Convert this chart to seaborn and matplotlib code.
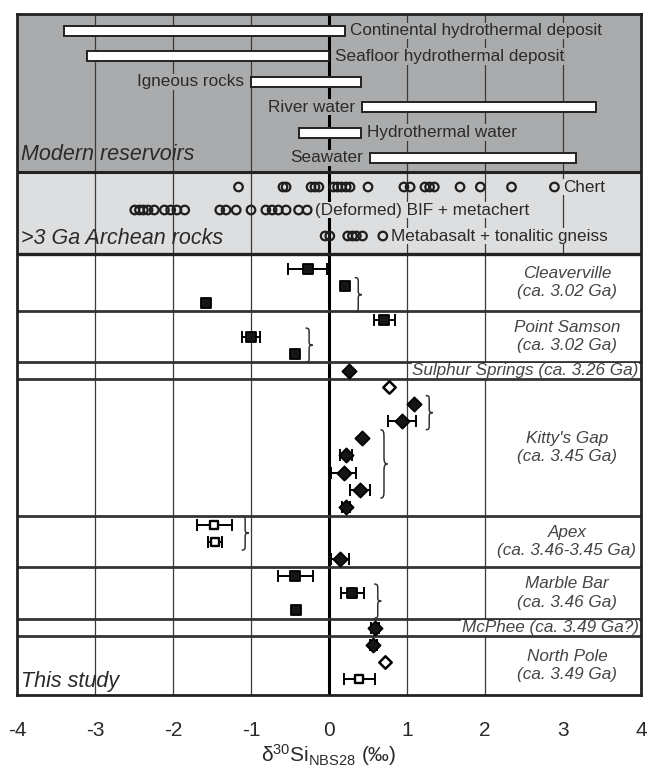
import numpy as np
import pandas as pd
import seaborn as sns
import matplotlib.pyplot as plt
from matplotlib.path import Path
from matplotlib.patches import PathPatch

# ----------------------------
# Data (d30Si, permil)
# ----------------------------
modern_names = ["Continental hydrothermal deposit", "Seafloor hydrothermal deposit",
                "Igneous rocks", "River water", "Hydrothermal water", "Seawater"]
modern_low = [-3.4, -3.1, -1.0, 0.42, -0.38, 0.53]
modern_high = [0.2, 0.0, 0.41, 3.42, 0.41, 3.17]
modern_label_side = ["right", "right", "left", "left", "right", "left"]

archean_names = ["Chert", "(Deformed) BIF + metachert", "Metabasalt + tonalitic gneiss"]
chert = [-1.16, -0.59, -0.55, -0.23, -0.18, -0.13, 0.06, 0.11, 0.16, 0.22, 0.27,
         0.50, 0.96, 1.04, 1.23, 1.29, 1.35, 1.68, 1.94, 2.34, 2.89]
bif_metachert = [-2.49, -2.43, -2.38, -2.32, -2.24, -2.11, -2.03, -1.95, -1.85,
                 -1.40, -1.32, -1.19, -1.00, -0.81, -0.73, -0.65, -0.55, -0.39, -0.28]
metabasalt_gneiss = [-0.05, 0.01, 0.24, 0.30, 0.35, 0.43, 0.69]

units = ["Cleaverville", "Point Samson", "Sulphur Springs", "Kitty's Gap",
         "Apex", "Marble Bar", "McPhee", "North Pole"]
unit_ages = ["ca. 3.02 Ga", "ca. 3.02 Ga", "ca. 3.26 Ga", "ca. 3.45 Ga",
             "ca. 3.46-3.45 Ga", "ca. 3.46 Ga", "ca. 3.49 Ga?", "ca. 3.49 Ga"]

# values, 1-sigma x errors, symbol (s = square, D = diamond; o_ = open)
cleaverville = [-0.27, 0.20, -1.58]
cleaverville_err = [0.25, 0.0, 0.0]
cleaverville_sym = ["s", "s", "s"]
point_samson = [0.71, -1.00, -0.43]
point_samson_err = [0.13, 0.12, 0.0]
point_samson_sym = ["s", "s", "s"]
sulphur_springs = [0.25]
sulphur_springs_err = [0.0]
sulphur_springs_sym = ["D"]
kittys_gap = [0.77, 1.09, 0.93, 0.42, 0.22, 0.19, 0.40, 0.22]
kittys_gap_err = [0.0, 0.0, 0.18, 0.0, 0.08, 0.16, 0.13, 0.05]
kittys_gap_sym = ["oD", "D", "D", "D", "D", "D", "D", "D"]
apex = [-1.47, -1.46, 0.14]
apex_err = [0.22, 0.09, 0.12]
apex_sym = ["os", "os", "D"]
marble_bar = [-0.43, 0.30, -0.42]
marble_bar_err = [0.23, 0.15, 0.0]
marble_bar_sym = ["s", "s", "s"]
mcphee = [0.59]
mcphee_err = [0.05]
mcphee_sym = ["D"]
north_pole = [0.57, 0.72, 0.39]
north_pole_err = [0.05, 0.0, 0.20]
north_pole_sym = ["D", "oD", "os"]

# samples grouped by a brace (indices within each unit)
brace_groups = {"Cleaverville": [[1, 2]], "Point Samson": [[1, 2]],
                "Kitty's Gap": [[1, 2], [3, 4, 5, 6]], "Apex": [[0, 1]],
                "Marble Bar": [[1, 2]]}

unit_values = [cleaverville, point_samson, sulphur_springs, kittys_gap,
               apex, marble_bar, mcphee, north_pole]
unit_errs = [cleaverville_err, point_samson_err, sulphur_springs_err, kittys_gap_err,
             apex_err, marble_bar_err, mcphee_err, north_pole_err]
unit_syms = [cleaverville_sym, point_samson_sym, sulphur_springs_sym, kittys_gap_sym,
             apex_sym, marble_bar_sym, mcphee_sym, north_pole_sym]

# ----------------------------
# Layout (vertical units ~ pixels from top of the frame)
# ----------------------------
modern_top, modern_h, modern_pitch = 0, 158, 25.4
arch_top, arch_h = 158, 82
arch_rows = [15, 38, 64]
low_top = 240
panel_h = [57, 51, 17, 137, 51, 52, 17, 59]
first_row = [15, 8.5, 8.5, 8, 8.5, 8.5, 8.5, 8.5]
row_pitch = 17.1

MODERN_BG = "#a9abad"
ARCH_BG = "#dddedf"
TXT = "#2a2a2a"

sns.set_style("white")
plt.rcParams["font.family"] = ["Liberation Sans", "DejaVu Sans"]
plt.rcParams["mathtext.fontset"] = "custom"
plt.rcParams["mathtext.rm"] = "Liberation Sans"
plt.rcParams["mathtext.it"] = "Liberation Sans:italic"
plt.rcParams["axes.unicode_minus"] = False

fig = plt.figure(figsize=(6.49, 7.74), dpi=100)
ax = fig.add_axes([17 / 649, (774 - 695) / 774, 624 / 649, 681 / 774])
ax.set_xlim(-4, 4)
total_h = low_top + sum(panel_h)
ax.set_ylim(total_h, 0)

# backgrounds
ax.axhspan(modern_top, modern_top + modern_h, color=MODERN_BG, zorder=0, lw=0)
ax.axhspan(arch_top, arch_top + arch_h, color=ARCH_BG, zorder=0, lw=0)

# vertical grid
ax.vlines([-3, -2, -1, 1, 2, 3], 0, low_top, color="#3a3a3a", lw=0.9, zorder=1)
ax.vlines([-3, -2, -1, 1, 2], low_top, total_h, color="#3a3a3a", lw=0.9, zorder=1)
ax.axvline(0, color="black", lw=2.2, zorder=1.5)

# horizontal separators
ax.axhline(arch_top, color="#222", lw=2.2, zorder=1.6)
ax.axhline(low_top, color="#222", lw=2.4, zorder=1.6)
edges = np.cumsum([low_top] + panel_h)
for e in edges[1:-1]:
    ax.axhline(e, color="#333", lw=2.0, zorder=1.6)

# ---- Modern reservoirs
y_mod = modern_top + 17 + modern_pitch * np.arange(len(modern_names))
lo = np.array(modern_low)
hi = np.array(modern_high)
ax.barh(y_mod, hi - lo, left=lo, height=10, color="white", edgecolor="#222",
        linewidth=1.4, zorder=3)
for name, l, h, y, side in zip(modern_names, lo, hi, y_mod, modern_label_side):
    if side == "right":
        ax.annotate(name, (h, y), xytext=(4, 0), textcoords="offset points",
                    ha="left", va="center", fontsize=12.3, color=TXT, zorder=2,
                    bbox=dict(facecolor=MODERN_BG, edgecolor="none", pad=0.5))
    else:
        ax.annotate(name, (l, y), xytext=(-5, 0), textcoords="offset points",
                    ha="right", va="center", fontsize=12.3, color=TXT, zorder=2,
                    bbox=dict(facecolor=MODERN_BG, edgecolor="none", pad=0.5))
ax.text(-3.95, 141, "Modern reservoirs", style="italic", fontsize=15.5,
        color=TXT, ha="left", va="center", zorder=2)

# ---- >3 Ga Archean rocks
for name, vals, r in zip(archean_names, [chert, bif_metachert, metabasalt_gneiss], arch_rows):
    yy = np.full(len(vals), arch_top + r)
    sns.scatterplot(x=vals, y=yy, ax=ax, marker="o", s=38, facecolor="none",
                    edgecolor="#1e1e1e", linewidth=1.6, zorder=3, legend=False)
    ax.annotate(name, (max(vals), arch_top + r), xytext=(6, 0), textcoords="offset points",
                ha="left", va="center", fontsize=12.3, color=TXT, zorder=2,
                bbox=dict(facecolor=ARCH_BG, edgecolor="none", pad=0.5))
ax.text(-3.95, 224, ">3 Ga Archean rocks", style="italic", fontsize=15.5,
        color=TXT, ha="left", va="center", zorder=2)

# ---- This study
rows = []
for k, (u, vals, errs, syms) in enumerate(zip(units, unit_values, unit_errs, unit_syms)):
    for i, (v, e, s) in enumerate(zip(vals, errs, syms)):
        rows.append(dict(unit=u, idx=i, value=v, err=e, sym=s,
                         y=edges[k] + first_row[k] + i * row_pitch))
df = pd.DataFrame(rows)

eb = df[df.err > 0]
ax.errorbar(eb.value, eb.y, xerr=eb.err, fmt="none", ecolor="black",
            elinewidth=1.4, capsize=4, capthick=1.4, zorder=3)

sym_style = {"s": ("s", "#151515", 62, 1.3), "os": ("s", "white", 40, 1.7),
             "D": ("D", "#151515", 52, 1.3), "oD": ("D", "white", 40, 1.8)}
for sym, (m, fc, size, lw) in sym_style.items():
    sub = df[df.sym == sym]
    if len(sub):
        sns.scatterplot(data=sub, x="value", y="y", ax=ax, marker=m, s=size,
                        color=fc, edgecolor="black", linewidth=lw, zorder=4,
                        legend=False)


def draw_brace(ax, x, y0, y1, w=0.09):
    h = y1 - y0
    pts = [(0, 0), (0.5, 0), (0.5, 0.04), (0.5, 0.14),
           (0.5, 0.4),
           (0.5, 0.47), (0.6, 0.5), (1, 0.5),
           (0.6, 0.5), (0.5, 0.53), (0.5, 0.6),
           (0.5, 0.86),
           (0.5, 0.96), (0.5, 1), (0, 1)]
    codes = [Path.MOVETO, Path.CURVE4, Path.CURVE4, Path.CURVE4, Path.LINETO,
             Path.CURVE4, Path.CURVE4, Path.CURVE4,
             Path.CURVE4, Path.CURVE4, Path.CURVE4, Path.LINETO,
             Path.CURVE4, Path.CURVE4, Path.CURVE4]
    verts = [(x + px * w, y0 + py * h) for px, py in pts]
    ax.add_patch(PathPatch(Path(verts, codes), fill=False, edgecolor="#333",
                           lw=1.1, zorder=3))


for u, groups in brace_groups.items():
    sub = df[df.unit == u]
    for g in groups:
        gg = sub[sub.idx.isin(g)]
        draw_brace(ax, (gg.value + gg.err).max() + 0.13, gg.y.min() - 8.5, gg.y.max() + 8.5)

for k, (u, a) in enumerate(zip(units, unit_ages)):
    yc = (edges[k] + edges[k + 1]) / 2
    if panel_h[k] < 30:
        ax.text(3.97, yc, f"{u} ({a})", ha="right", va="center", style="italic",
                fontsize=12.3, color="#444", zorder=2,
                bbox=dict(facecolor="white", edgecolor="none", pad=0.3))
    else:
        ax.text(3.05, yc, f"{u}\n({a})", ha="center", va="center", style="italic",
                fontsize=12.3, color="#444", linespacing=1.3, zorder=2)
ax.text(-3.95, total_h - 13, "This study", style="italic", fontsize=15.5,
        color=TXT, ha="left", va="center", zorder=2)

# ---- axes
ax.set_yticks([])
ax.set_xticks(range(-4, 5))
ax.set_xticks(np.arange(-3.5, 4, 1), minor=True)
ax.tick_params(axis="x", which="major", direction="out", length=9, width=2,
               labelsize=15, pad=10, color="#222", labelcolor=TXT)
ax.tick_params(axis="x", which="minor", direction="out", length=5, width=2, color="#222")
for sp in ax.spines.values():
    sp.set_linewidth(2)
    sp.set_color("#222")
ax.set_xlabel(r"δ$^{30}$Si$_{\mathrm{NBS28}}$ (‰)", fontsize=15, color=TXT, labelpad=1)
ax.set_ylabel("")

fig.savefig("out.png", dpi=100)
plt.close(fig)
